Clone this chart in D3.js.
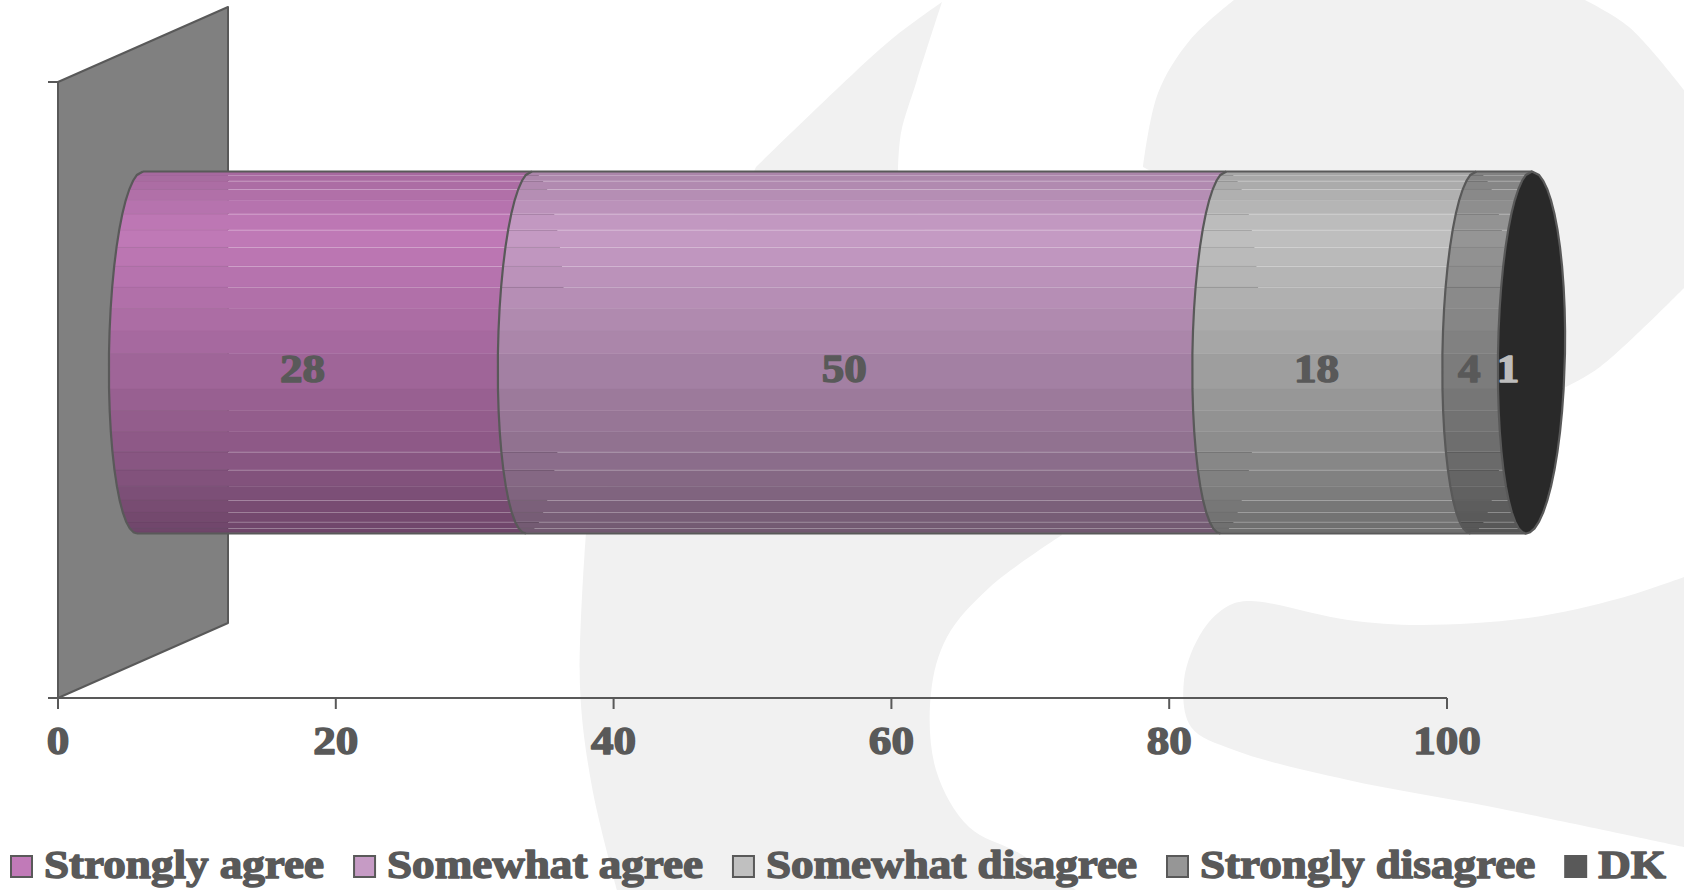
<!DOCTYPE html>
<html><head><meta charset="utf-8">
<script src="https://cdn.jsdelivr.net/npm/d3@7/dist/d3.min.js"></script>
<style>html,body{margin:0;padding:0;background:#fff}svg{display:block}
text{font-family:"Liberation Serif",serif;font-weight:700;fill:#595959;stroke:#595959;stroke-width:1.5px;paint-order:stroke;stroke-linejoin:round}</style>
</head><body><svg id="c" width="1684" height="890"></svg>
<script>
const categories=["Strongly agree","Somewhat agree","Somewhat disagree","Strongly disagree","DK"];
const values=[28,50,18,4,1];
const seriesColors=["#c17ab8","#c69bc5","#c0c0c0","#969696","#595959"];
const tickValues=[0,20,40,60,80,100];
const capColor="#292929", ink="#595959", wmColor="#f1f1f1";
// watermark outline: each shape is a run of smooth edges joined by straight pieces
const wmA=[[[942,2],[893,38],[838,88],[756,167]],
           [[586,533],[580,687],[592,787],[617,890]],
           [[1076,890],[1019,853],[969,827],[936,770],[931,693],[947,637],[990,587],[1062,535]],
           [[898,170],[901,133],[917,80],[942,2]]];
const wmB=[[[1234,0],[1190,40],[1158,93],[1143,167]],
           [[1566,387],[1600,367],[1684,288]],
           [[1684,90],[1629,27],[1585,0]]];
const wmC=[[[1684,847],[1492,807],[1348,780],[1234,750],[1191,727],[1184,680],[1203,630],[1228,606],[1250,601],[1348,620],[1420,625],[1528,618],[1621,598],[1684,577]]];

const svg=d3.select("#c");
const x=d3.scaleLinear().domain([0,100]).range([58,1447]).clamp(true);
const xFree=d3.scaleLinear().domain([0,100]).range([58,1447]);
const y=d3.scaleBand().domain(["q"]).range([82,698]);
const depthX=170, depthY=-75;
const yTopF=y("q"), yBotF=y("q")+y.bandwidth();
const cy=(yTopF+yBotF)/2+depthY/2, ry=181;

const smooth=d3.line().curve(d3.curveCatmullRom.alpha(.5));
const wm=svg.append("g").attr("fill",wmColor);
[wmA,wmB,wmC].forEach(shape=>wm.append("path").attr("d",shape.map((p,i)=>{const d=smooth(p);return i?"L"+d.slice(1):d;}).join("")+"Z"));

svg.append("path").attr("fill","#808080").attr("stroke",ink).attr("stroke-width",2).attr("stroke-linejoin","round")
 .attr("d",d3.line()([[x(0),yTopF],[x(0)+depthX,yTopF+depthY],[x(0)+depthX,yBotF+depthY],[x(0),yBotF]])+"Z");

const thetas=[0,11.2,18.4,25.6,32.8,40,47.2,54.4,61.6,68.8,76,83.2,90.4,101.6,108.8,116,123.2,130.4,137.6,144.8,152,159.2,166.4,173.6,180];
const lit=new Set([11.2,18.4,25.6,40,47.2,54.4,61.6,68.8,123.2,130.4,144.8,152,159.2,166.4]);
const rad=d=>d*Math.PI/180;
const yAt=t=>cy-ry*Math.cos(rad(t));
const nearX=(v,t)=>x(v)+82+3*Math.cos(rad(t))-31*Math.sin(rad(t));
const farX=(v,t)=>x(v)+82+3*Math.cos(rad(t))+36*Math.sin(rad(t));
const light=d3.scaleLinear().domain([-1,-.67,0,.55,1]).range([.86,1,.85,.72,.57]);
const shade=(c,f)=>{const r=d3.rgb(c);return d3.rgb(r.r*f,r.g*f,r.b*f).formatHex();};

const stack=[];let acc=0;values.forEach((v,i)=>{stack.push({i,v,from:acc,to:acc+v});acc+=v;});
const endV=Math.min(acc,x.domain()[1]);
const bar=svg.append("g");
stack.forEach(s=>{
  if(x(s.to)<=x(s.from))return;
  const g=bar.append("g");
  d3.pairs(thetas).forEach(([a,b])=>{
    const f=light((yAt(a)+yAt(b)-2*cy)/2/ry);
    const col=shade(seriesColors[s.i],f);
    g.append("path").attr("fill",col).attr("stroke",col).attr("stroke-width",.4)
     .attr("d",d3.line()([[nearX(s.from,a),yAt(a)],[nearX(s.to,a),yAt(a)],[nearX(s.to,b),yAt(b)],[nearX(s.from,b),yAt(b)]])+"Z");
  });
  thetas.filter(t=>lit.has(t)).forEach(t=>{
    const yy=Math.round(yAt(t))+.5;
    const start=s.from===0?x(0)+depthX:farX(s.from,t);
    const end=nearX(s.to,t);
    g.append("line").attr("x1",nearX(s.from,t)).attr("x2",start).attr("y1",yy).attr("y2",yy).attr("stroke","#000").attr("stroke-opacity",s.from===0?0.03:0.12);
    g.append("line").attr("x1",start).attr("x2",end).attr("y1",yy).attr("y2",yy).attr("stroke","#fff").attr("stroke-opacity",.24);
  });
});
const edgeLine=d3.line().x(d=>d[0]).y(d=>d[1]);
stack.filter(s=>x(s.from)<x(s.to)).forEach(s=>{
  bar.append("path").attr("fill","none").attr("stroke",ink).attr("stroke-width",2.2)
   .attr("d",edgeLine(thetas.map(t=>[nearX(s.from,t),yAt(t)])));
});
[0,180].forEach(t=>bar.append("line").attr("x1",nearX(0,t)).attr("x2",nearX(endV,t)).attr("y1",yAt(t)).attr("y2",yAt(t)).attr("stroke",ink).attr("stroke-width",2));
bar.append("path").attr("fill",capColor).attr("stroke",ink).attr("stroke-width",2.2)
 .attr("d",edgeLine(thetas.map(t=>[nearX(endV,t),yAt(t)]).concat(thetas.slice().reverse().map(t=>[farX(endV,t),yAt(t)])))+"Z");

const axG=svg.append("g").attr("stroke",ink).attr("stroke-width",2);
axG.append("line").attr("x1",48).attr("x2",x(100)).attr("y1",yBotF).attr("y2",yBotF);
axG.append("line").attr("x1",48).attr("x2",x(0)).attr("y1",yTopF).attr("y2",yTopF);
axG.selectAll(".t").data(tickValues).join("line").attr("x1",d=>x(d)).attr("x2",d=>x(d)).attr("y1",yBotF).attr("y2",yBotF+11);
const FONT=41, SX=1.10;
const place=(px,py)=>`translate(${px},${py}) scale(${SX},1)`;
svg.selectAll(".tl").data(tickValues).join("text").attr("class","tl").attr("transform",d=>place(x(d),754)).attr("text-anchor","middle").attr("font-size",FONT).text(d=>d);

svg.selectAll(".dl").data(stack).join("text").attr("class","dl")
 .attr("transform",d=>place(xFree((d.from+d.to)/2)+50+(d.to>100?4:0),382)).attr("text-anchor","middle").attr("font-size",FONT)
 .style("fill",d=>d.to>100?"#bdbdbd":ink).style("stroke",d=>d.to>100?"#bdbdbd":ink).text(d=>d.v);

let lx=10;
categories.forEach((c,i)=>{
  svg.append("rect").attr("x",lx+1).attr("y",856).attr("width",21).attr("height",21).attr("fill",seriesColors[i]).attr("stroke",ink).attr("stroke-width",2);
  const t=svg.append("text").attr("transform",place(lx+34,878)).attr("font-size",FONT).text(c);
  lx+=34+t.node().getComputedTextLength()*SX+29;
});
</script></body></html>
